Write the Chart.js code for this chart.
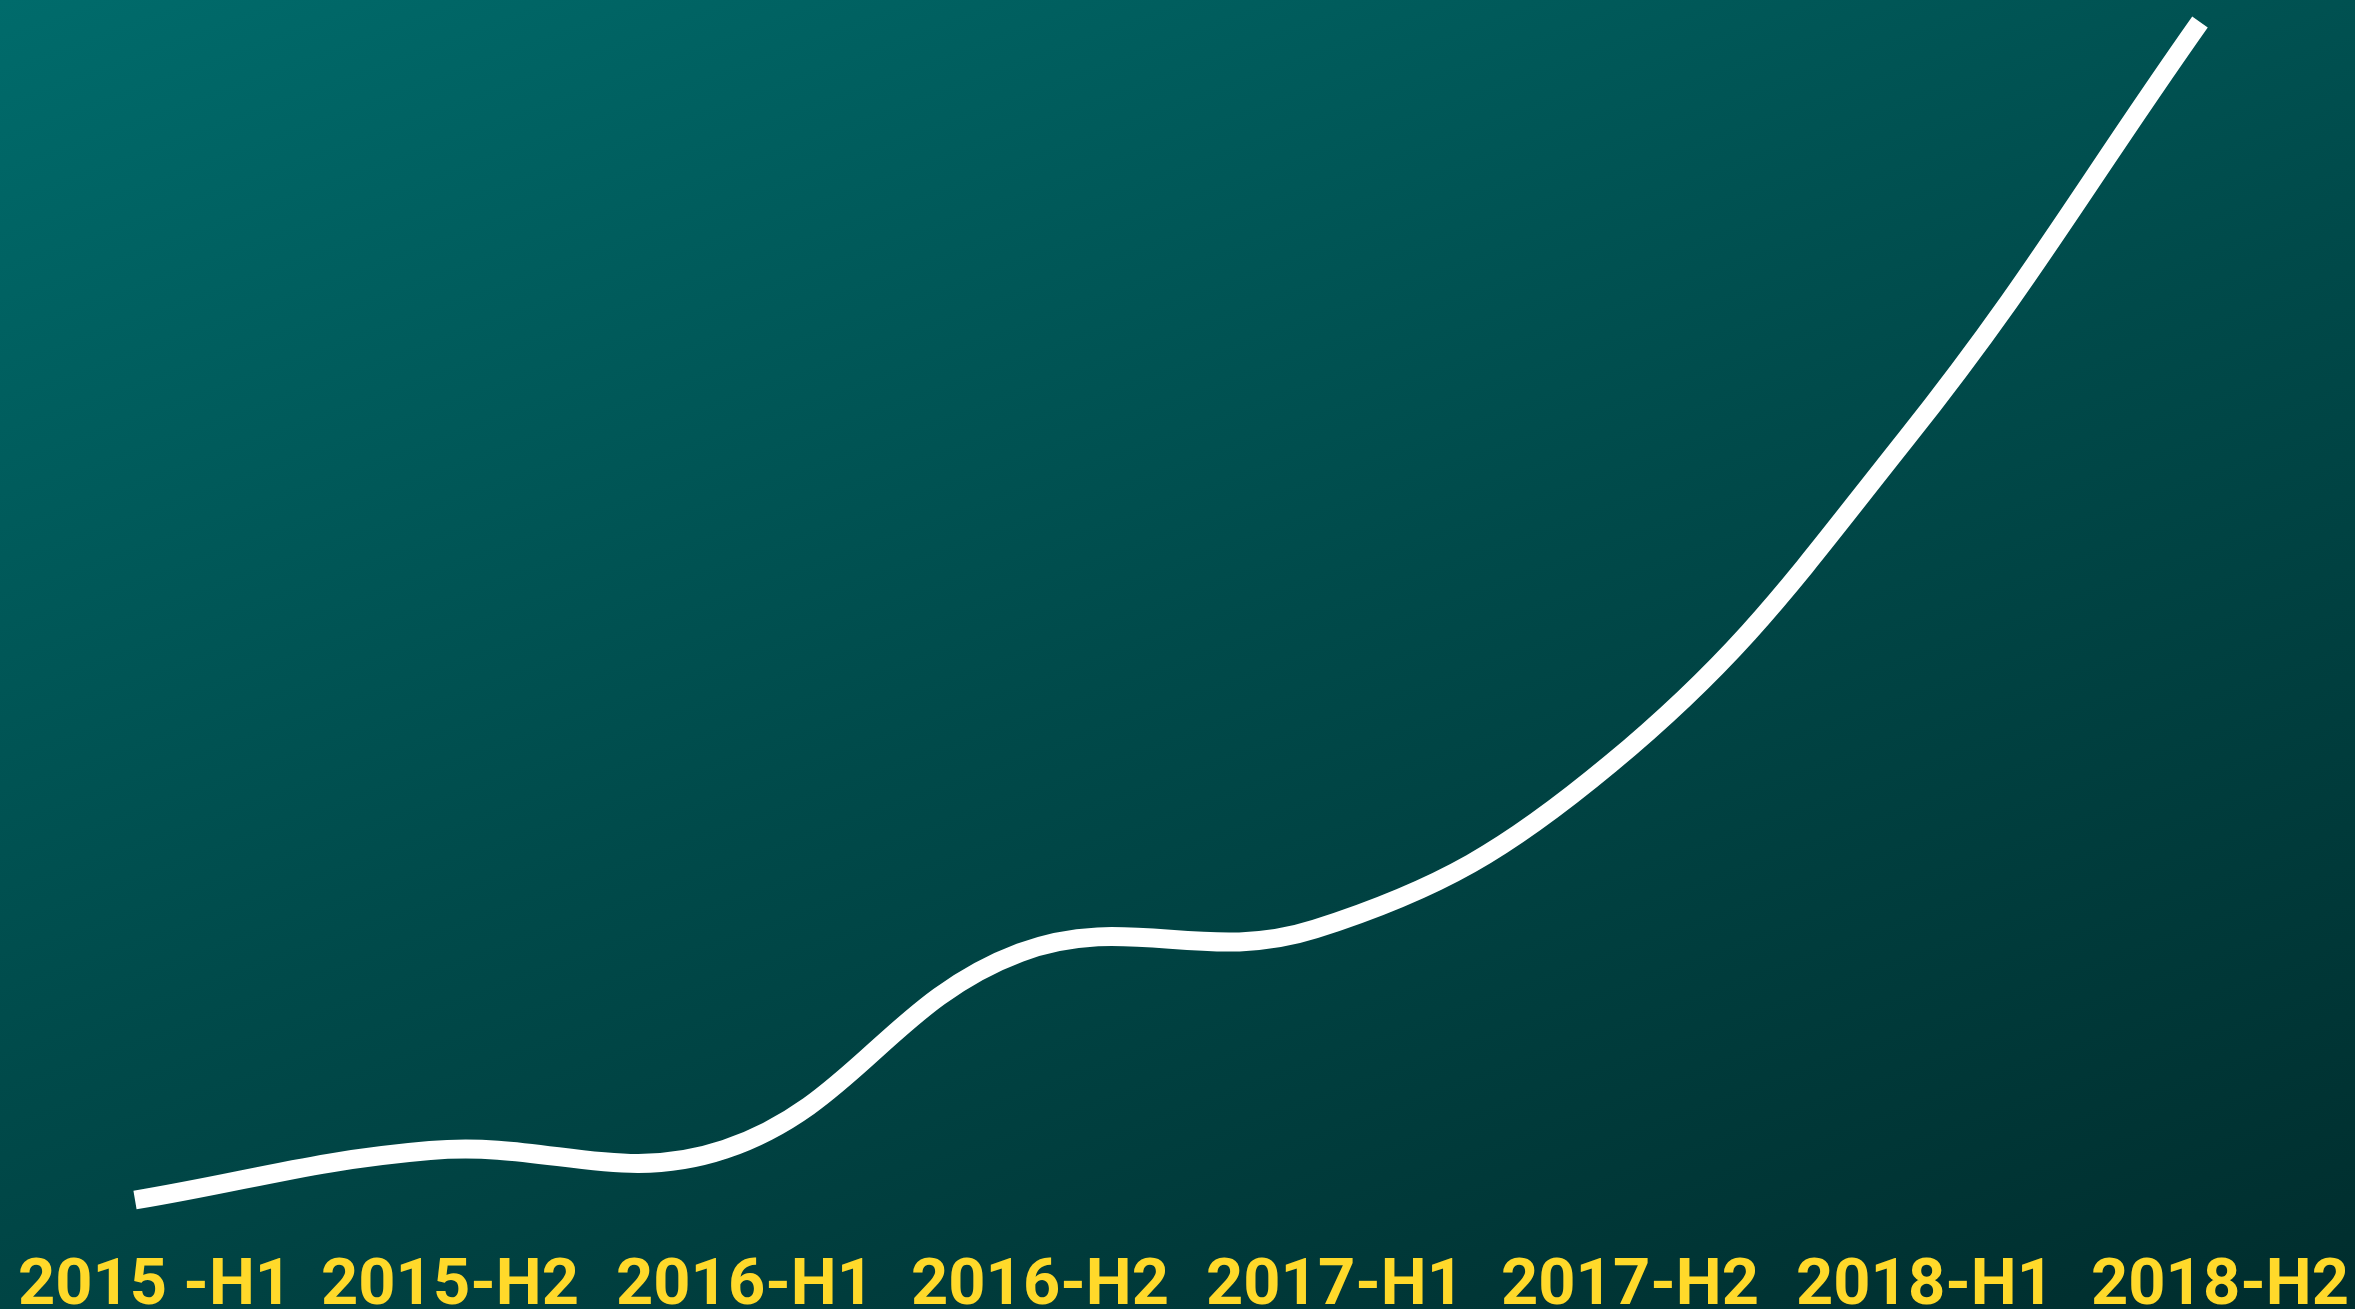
<!DOCTYPE html>
<html>
<head>
<meta charset="utf-8">
<script src="https://cdn.jsdelivr.net/npm/chart.js@4.4.1/dist/chart.umd.min.js"></script>
<style>
  html, body { margin: 0; padding: 0; }
  body {
    width: 2355px;
    height: 1309px;
    overflow: hidden;
    background: linear-gradient(160deg, #006b6b 0%, #004a4a 50%, #002d2d 100%);
  }
  #wrap { position: relative; width: 2355px; height: 1309px; }
</style>
</head>
<body>
<div id="wrap"><canvas id="growthChart"></canvas></div>
<script>
// Data
const periods = ["2015 -H1", "2015-H2", "2016-H1", "2016-H2", "2017-H1", "2017-H2", "2018-H1", "2018-H2"];
const growth = [0, 4.2, 4.3, 21, 23, 37, 64.5, 100];

const ctx = document.getElementById("growthChart").getContext("2d");
const chart = new Chart(ctx, {
    type: "line",
    data: {
        labels: periods,
        datasets: [{
            data: growth,
            borderColor: "#ffffff",
            borderWidth: 19,
            borderCapStyle: "butt",
            pointRadius: 0,
            tension: 0.4,
            fill: false,
            clip: false
        }]
    },
    options: {
        responsive: true,
        maintainAspectRatio: false,
        animation: false,
        layout: {
            padding: { left: 135, right: 155, top: 22, bottom: 0 }
        },
        plugins: {
            legend: { display: false },
            tooltip: { enabled: false }
        },
        scales: {
            x: {
                grid: { display: false, drawTicks: false },
                border: { display: false },
                ticks: {
                    color: "#ffd92a",
                    font: { family: "Roboto, 'DejaVu Sans', sans-serif", size: 65, weight: "bold", lineHeight: 1 },
                    padding: 55,
                    labelOffset: 20,
                    maxRotation: 0,
                    autoSkip: false
                },
                afterFit: (scale) => {
                    // keep the line ends where they are, let the labels overhang
                    scale.height = 109;
                    scale.paddingLeft = 0;
                    scale.paddingRight = 0;
                }
            },
            y: {
                display: false,
                min: 0,
                max: 100
            }
        }
    }
});
</script>
</body>
</html>
